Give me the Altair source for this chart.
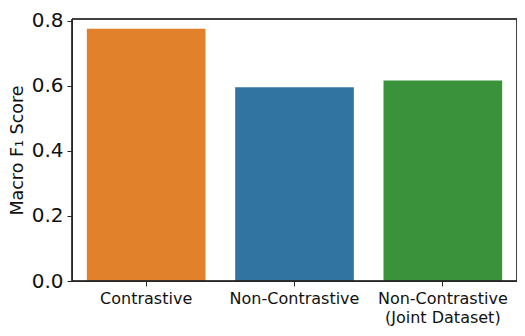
import altair as alt
import pandas as pd

categories = ["Contrastive", "Non-Contrastive", "Non-Contrastive\n(Joint Dataset)"]
scores = [0.776, 0.596, 0.617]
colors = ["#e1812c", "#3274a1", "#3a923a"]

df = pd.DataFrame({"method": categories, "score": scores})

bars = alt.Chart(df).mark_bar().encode(
    x=alt.X("method:N", sort=categories,
            scale=alt.Scale(paddingInner=0.2, paddingOuter=0.1),
            axis=alt.Axis(title=None, labelAngle=0, labelExpr="split(datum.label, '\\n')",
                          labelFontSize=16, labelLineHeight=19, labelPadding=4,
                          tickSize=5, labelColor="#111111")),
    y=alt.Y("score:Q", scale=alt.Scale(domain=[0, 0.806], nice=False, zero=True),
            axis=alt.Axis(title="Macro F\u2081 Score", values=[0, 0.2, 0.4, 0.6, 0.8], format=".1f",
                          labelFontSize=20, titleFontSize=17.5, titleFontWeight="normal",
                          titlePadding=5, tickSize=5, labelPadding=4, grid=False,
                          labelColor="#111111", titleColor="#111111")),
    color=alt.Color("method:N", sort=categories,
                    scale=alt.Scale(domain=categories, range=colors), legend=None),
)

frame = alt.Chart(df).mark_rect(fill=None, stroke="#262626", strokeWidth=1).encode(
    x=alt.value(0), x2=alt.value(445), y=alt.value(0), y2=alt.value(262)
)

chart = alt.layer(bars, frame).properties(
    width=445, height=262,
    autosize=alt.AutoSizeParams(type="none"),
    padding={"left": 64, "top": 11, "right": 0, "bottom": 47},
).configure_view(
    stroke=None
).configure_axis(
    domainColor="#262626", tickColor="#262626", labelFont="DejaVu Sans", titleFont="DejaVu Sans",
    domainWidth=1, tickWidth=1
)

chart.save("out.html", embed_options={"renderer": "svg", "actions": False})
